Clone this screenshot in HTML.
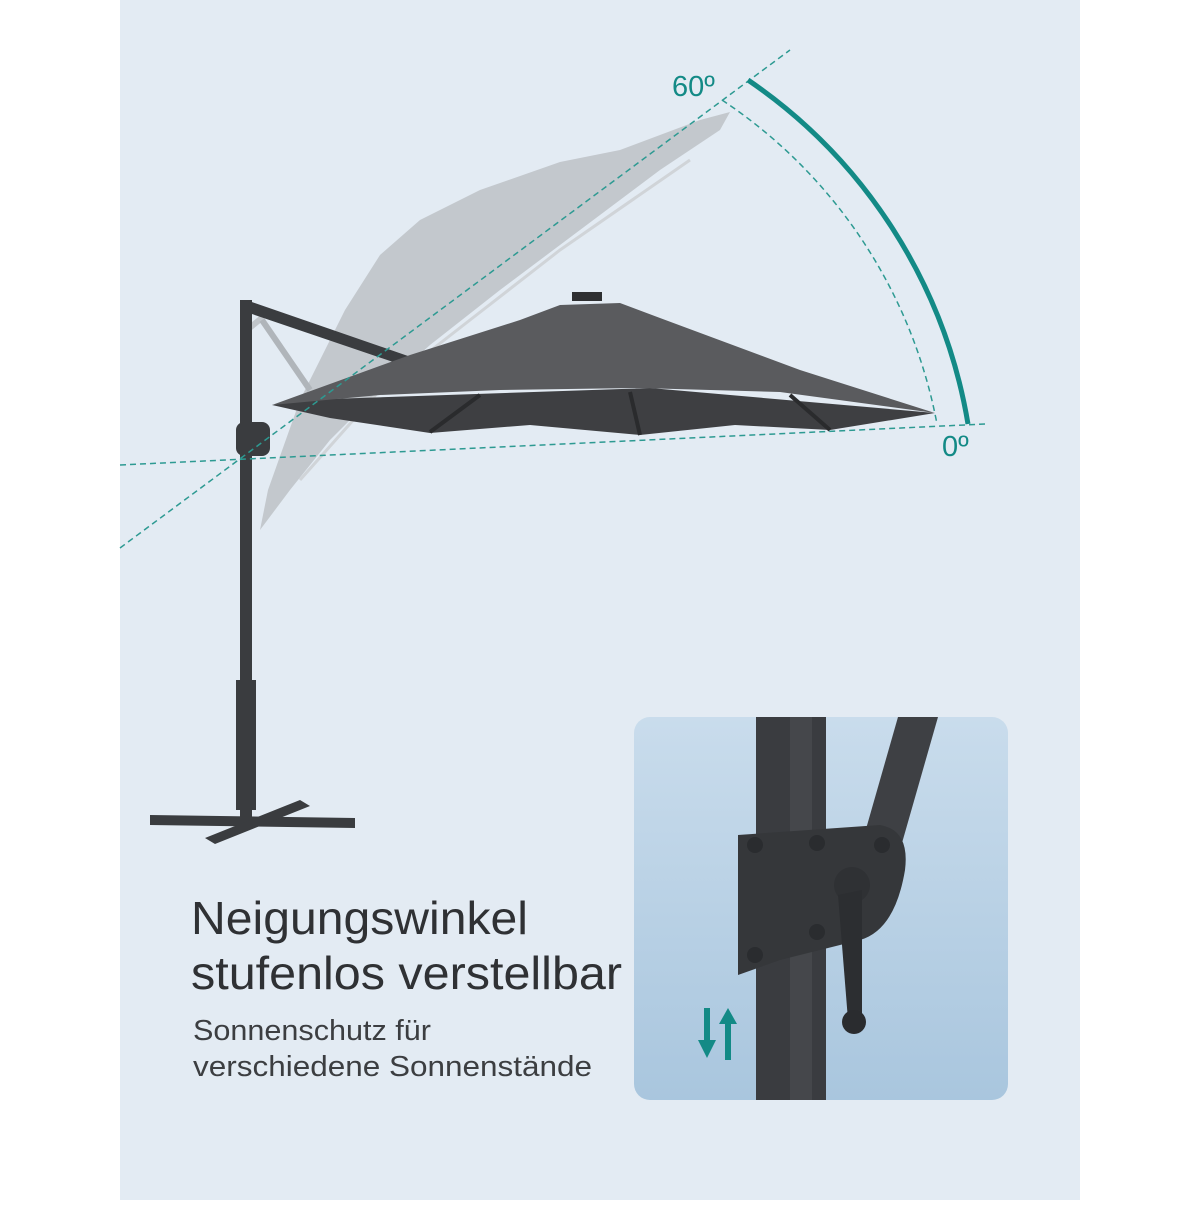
<!DOCTYPE html>
<html><head><meta charset="utf-8"><style>
body{margin:0;width:1200px;height:1200px;background:#fff;overflow:hidden;font-family:"Liberation Sans",sans-serif}
</style></head><body>
<svg width="1200" height="1200" viewBox="0 0 1200 1200" xmlns="http://www.w3.org/2000/svg">
<defs>
<linearGradient id="sky" x1="0" y1="0" x2="0" y2="1"><stop offset="0" stop-color="#c9dcec"/><stop offset="1" stop-color="#a9c6de"/></linearGradient>
<clipPath id="ic"><rect x="634" y="717" width="374" height="383" rx="16"/></clipPath>
</defs>
<rect x="120" y="0" width="960" height="1200" fill="#e3ebf3"/>
<!-- ghost umbrella -->
<path d="M260,530 L268,490 L300,400 L345,310 L380,255 L420,220 L480,190 L560,162 L620,150 L700,120 L730,112 L720,130 L660,170 L580,230 L500,290 L430,345 L380,390 L330,440 L290,490 Z" fill="#c3c8cd"/>
<path d="M300,480 L380,390 L470,320 L560,250 L690,160" stroke="#d0d4d8" stroke-width="3" fill="none"/>
<path d="M263,317 L247,330" stroke="#c0c5ca" stroke-width="6"/>
<!-- pole & arm -->
<rect x="240" y="300" width="12" height="520" fill="#3a3c3f"/>
<path d="M246,300 L408,356 L405,366 L246,312 Z" fill="#3a3c3f"/>
<path d="M262,320 L310,390" stroke="#b0b5ba" stroke-width="6"/>
<rect x="236" y="422" width="34" height="34" rx="8" fill="#3a3c3f"/>
<!-- base -->
<path d="M150,815 L355,818 L355,828 L150,825 Z" fill="#3a3c3f"/>
<path d="M205,838 L300,800 L310,806 L215,844 Z" fill="#3a3c3f"/>
<rect x="236" y="680" width="20" height="130" fill="#3a3c3f"/>
<!-- dark umbrella -->
<path d="M272,405 L300,400 L650,388 L935,413 L830,430 L735,425 L640,435 L530,425 L430,433 L330,418 Z" fill="#3e3f42"/>
<path d="M272,405 L410,355 L520,320 L560,305 L620,303 L660,318 L800,370 L935,413 L780,392 L640,388 L500,390 L380,395 Z" fill="#5a5b5e"/>
<rect x="572" y="292" width="30" height="9" fill="#2e2f31"/>
<path d="M430,432 L480,395 M640,435 L630,392 M830,430 L790,395" stroke="#2a2b2d" stroke-width="4"/>
<!-- dashed guides -->
<path d="M120,465 L985,424" stroke="#2d9a92" stroke-width="1.5" stroke-dasharray="6,4"/>
<path d="M120,548 L790,50" stroke="#2d9a92" stroke-width="1.5" stroke-dasharray="6,4"/>
<path d="M722,100 A500 500 0 0 1 937,424" stroke="#2d9a92" stroke-width="1.5" stroke-dasharray="6,4" fill="none"/>
<path d="M748,80 A520 520 0 0 1 968,424" stroke="#138a86" stroke-width="5" fill="none"/>
<text x="672" y="96" font-size="29" fill="#138a86">60º</text>
<text x="942" y="456" font-size="29" fill="#138a86">0º</text>
<!-- inset -->
<g clip-path="url(#ic)">
<rect x="634" y="717" width="374" height="383" fill="url(#sky)"/>
<path d="M898,717 L938,717 L900,850 L860,850 Z" fill="#3e4044"/>
<rect x="756" y="717" width="70" height="383" fill="#3a3c40"/>
<rect x="790" y="717" width="22" height="383" fill="#45474b"/>
<path d="M738,835 L880,825 Q910,830 905,870 Q895,930 860,940 L780,960 L738,975 Z" fill="#35373a"/>
<circle cx="755" cy="845" r="8" fill="#2a2c2f"/><circle cx="817" cy="843" r="8" fill="#2a2c2f"/><circle cx="882" cy="845" r="8" fill="#2a2c2f"/>
<circle cx="817" cy="932" r="8" fill="#2a2c2f"/><circle cx="755" cy="955" r="8" fill="#2a2c2f"/>
<circle cx="852" cy="885" r="18" fill="#2f3134"/>
<path d="M838,895 L862,890 L862,1020 L848,1020 Z" fill="#2c2e31"/>
<circle cx="854" cy="1022" r="12" fill="#2a2c2f"/>
<path d="M707,1008 L707,1045" stroke="#138a86" stroke-width="6"/>
<path d="M698,1040 L707,1058 L716,1040 Z" fill="#138a86"/>
<path d="M728,1060 L728,1020" stroke="#138a86" stroke-width="6"/>
<path d="M719,1024 L728,1008 L737,1024 Z" fill="#138a86"/>
</g>
<text x="191" y="934" font-size="46" fill="#2f3134" textLength="337" lengthAdjust="spacingAndGlyphs">Neigungswinkel</text>
<text x="191" y="989" font-size="46" fill="#2f3134" textLength="431" lengthAdjust="spacingAndGlyphs">stufenlos verstellbar</text>
<text x="193" y="1040" font-size="29" fill="#3c3e41" textLength="238" lengthAdjust="spacingAndGlyphs">Sonnenschutz für</text>
<text x="193" y="1076" font-size="29" fill="#3c3e41" textLength="399" lengthAdjust="spacingAndGlyphs">verschiedene Sonnenstände</text>
</svg>
</body></html>
